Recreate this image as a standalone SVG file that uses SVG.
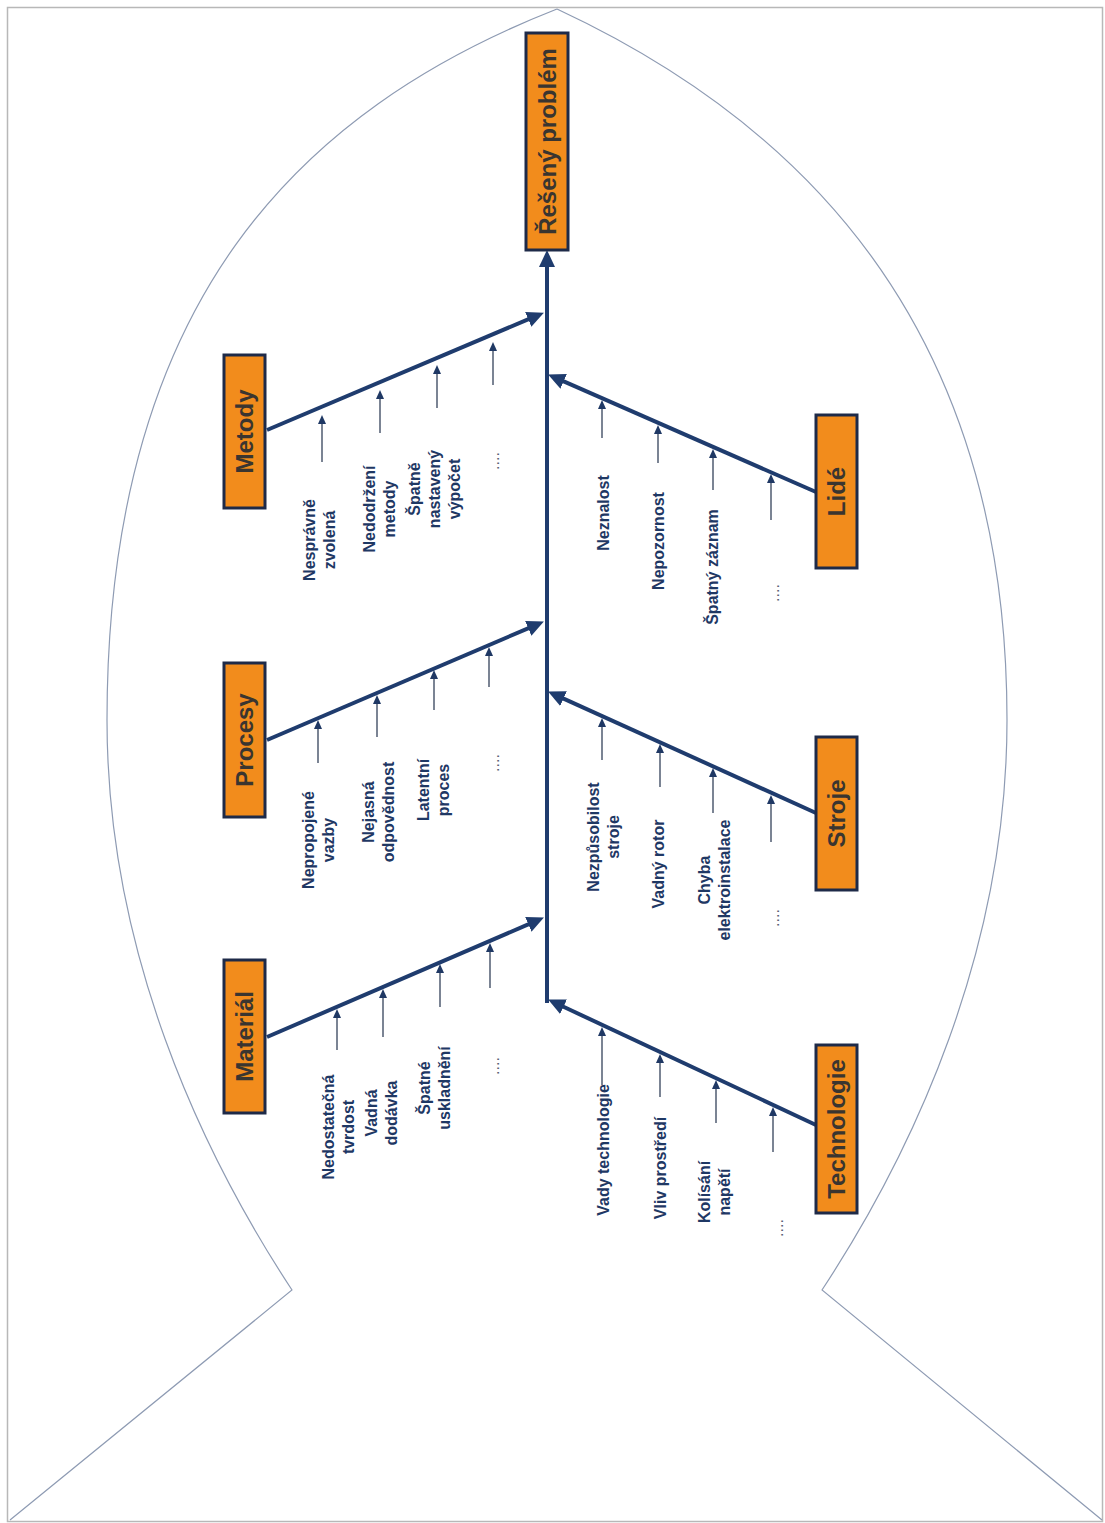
<svg xmlns="http://www.w3.org/2000/svg" width="1105" height="1523" viewBox="0 0 1105 1523">
  <defs>
    <marker id="head" markerUnits="userSpaceOnUse" markerWidth="18" markerHeight="16" viewBox="0 0 18 16" refX="3" refY="8" orient="auto">
      <path d="M0,0 L17,8 L0,16 z" fill="#1f3c6e"/>
    </marker>
    <marker id="tip" markerUnits="userSpaceOnUse" markerWidth="10" markerHeight="10" viewBox="0 0 10 10" refX="1" refY="5" orient="auto">
      <path d="M0,1 L9,5 L0,9 z" fill="#1f3864"/>
    </marker>
  </defs>
  <style>
    .frame { fill: #ffffff; stroke: #b8b8b8; stroke-width: 1.5; }
    .fish { fill: none; stroke: #8e9bb3; stroke-width: 1.2; }
    .bone { stroke: #1f3c6e; stroke-width: 4; fill: none; marker-end: url(#head); }
    .cause { stroke: #4f5b70; stroke-width: 1.5; marker-end: url(#tip); }
    .box { fill: #f28c1c; stroke: #1e2a48; stroke-width: 3; }
    .cat { font-family: "Liberation Sans", Arial, sans-serif; font-weight: bold; font-size: 24px; fill: #3a3530; text-anchor: middle; }
    .lbl { font-family: "Liberation Sans", Arial, sans-serif; font-weight: bold; font-size: 16px; fill: #1f3864; text-anchor: middle; }
    .more { font-family: "Liberation Sans", Arial, sans-serif; font-size: 16px; fill: #5a6478; text-anchor: middle; }
  </style>

  <!-- page frame and fish body outline -->
  <rect class="frame" x="7.5" y="7.5" width="1095" height="1514"/>
  <path class="fish" d="M557,9 C300,110 107,300 107,720 C107,950 200,1150 292,1290 L10,1520"/>
  <path class="fish" d="M557,9 C795,120 1007,320 1007,720 C1007,950 914,1150 822,1290 L1102,1520"/>

  <!-- spine, main bones and cause arrows -->
  <g id="connectors">
    <line class="bone" x1="547" y1="1003" x2="547" y2="264"/>
    <line class="bone" x1="267" y1="430" x2="531" y2="318.1"/>
    <line class="bone" x1="267" y1="740" x2="531" y2="627.1"/>
    <line class="bone" x1="267" y1="1037" x2="531.1" y2="923.1"/>
    <line class="bone" x1="816" y1="492" x2="560.9" y2="380.2"/>
    <line class="bone" x1="816" y1="813" x2="560.8" y2="697.4"/>
    <line class="bone" x1="816" y1="1125" x2="560.8" y2="1005.5"/>

    <!-- Metody causes -->
    <line class="cause" x1="322" y1="462" x2="322" y2="423"/>
    <line class="cause" x1="380" y1="433" x2="380" y2="398"/>
    <line class="cause" x1="437" y1="408" x2="437" y2="373"/>
    <line class="cause" x1="493" y1="385" x2="493" y2="350"/>
    <!-- Procesy causes -->
    <line class="cause" x1="318" y1="763" x2="318" y2="728"/>
    <line class="cause" x1="377" y1="737" x2="377" y2="703"/>
    <line class="cause" x1="434" y1="710" x2="434" y2="678"/>
    <line class="cause" x1="489" y1="687" x2="489" y2="655"/>
    <!-- Materiál causes -->
    <line class="cause" x1="337" y1="1050" x2="337" y2="1017"/>
    <line class="cause" x1="383" y1="1037" x2="383" y2="997"/>
    <line class="cause" x1="440" y1="1007" x2="440" y2="972"/>
    <line class="cause" x1="490" y1="988" x2="490" y2="951"/>
    <!-- Lidé causes -->
    <line class="cause" x1="602" y1="438" x2="602" y2="408"/>
    <line class="cause" x1="658" y1="463" x2="658" y2="433"/>
    <line class="cause" x1="713" y1="490" x2="713" y2="457"/>
    <line class="cause" x1="771" y1="520" x2="771" y2="482"/>
    <!-- Stroje causes -->
    <line class="cause" x1="602" y1="760" x2="602" y2="726"/>
    <line class="cause" x1="660" y1="787" x2="660" y2="752"/>
    <line class="cause" x1="713" y1="813" x2="713" y2="776"/>
    <line class="cause" x1="771" y1="842" x2="771" y2="803"/>
    <!-- Technologie causes -->
    <line class="cause" x1="602" y1="1085" x2="602" y2="1035"/>
    <line class="cause" x1="660" y1="1097" x2="660" y2="1062"/>
    <line class="cause" x1="716" y1="1123" x2="716" y2="1088"/>
    <line class="cause" x1="773" y1="1152" x2="773" y2="1115"/>
  </g>

  <!-- effect -->
  <g id="problem">
    <rect class="box" x="526" y="33" width="42" height="217"/>
    <text class="cat" transform="translate(547,141.5) rotate(-90)" y="8.5">Řešený problém</text>
  </g>

  <!-- categories -->
  <g id="metody">
    <rect class="box" x="224" y="355" width="41" height="153"/>
    <text class="cat" transform="translate(244.5,431.5) rotate(-90)" y="8.5">Metody</text>
  </g>
  <g id="procesy">
    <rect class="box" x="224" y="663" width="41" height="154"/>
    <text class="cat" transform="translate(244.5,740) rotate(-90)" y="8.5">Procesy</text>
  </g>
  <g id="material">
    <rect class="box" x="224" y="960" width="41" height="153"/>
    <text class="cat" transform="translate(244.5,1036.5) rotate(-90)" y="8.5">Materiál</text>
  </g>
  <g id="lide">
    <rect class="box" x="816" y="415" width="41" height="153"/>
    <text class="cat" transform="translate(836.5,491.5) rotate(-90)" y="8.5">Lidé</text>
  </g>
  <g id="stroje">
    <rect class="box" x="816" y="737" width="41" height="153"/>
    <text class="cat" transform="translate(836.5,813.5) rotate(-90)" y="8.5">Stroje</text>
  </g>
  <g id="technologie">
    <rect class="box" x="816" y="1045" width="41" height="168"/>
    <text class="cat" transform="translate(836.5,1129) rotate(-90)" y="8.5">Technologie</text>
  </g>

  <!-- cause labels, Metody -->
  <g id="metody-causes">
    <text class="lbl" transform="translate(319,540) rotate(-90)"><tspan x="0" y="-4.5">Nesprávně</tspan><tspan x="0" y="15.5">zvolená</tspan></text>
    <text class="lbl" transform="translate(379,509) rotate(-90)"><tspan x="0" y="-4.5">Nedodržení</tspan><tspan x="0" y="15.5">metody</tspan></text>
    <text class="lbl" transform="translate(434,489) rotate(-90)"><tspan x="0" y="-14.5">Špatně</tspan><tspan x="0" y="5.5">nastavený</tspan><tspan x="0" y="25.5">výpočet</tspan></text>
    <text class="more" transform="translate(493,461) rotate(-90)" y="5.5">....</text>
  </g>
  <!-- cause labels, Procesy -->
  <g id="procesy-causes">
    <text class="lbl" transform="translate(318,840) rotate(-90)"><tspan x="0" y="-4.5">Nepropojené</tspan><tspan x="0" y="15.5">vazby</tspan></text>
    <text class="lbl" transform="translate(378,812) rotate(-90)"><tspan x="0" y="-4.5">Nejasná</tspan><tspan x="0" y="15.5">odpovědnost</tspan></text>
    <text class="lbl" transform="translate(433,790) rotate(-90)"><tspan x="0" y="-4.5">Latentní</tspan><tspan x="0" y="15.5">proces</tspan></text>
    <text class="more" transform="translate(493,763) rotate(-90)" y="5.5">....</text>
  </g>
  <!-- cause labels, Materiál -->
  <g id="material-causes">
    <text class="lbl" transform="translate(338,1127) rotate(-90)"><tspan x="0" y="-4.5">Nedostatečná</tspan><tspan x="0" y="15.5">tvrdost</tspan></text>
    <text class="lbl" transform="translate(381,1113) rotate(-90)"><tspan x="0" y="-4.5">Vadná</tspan><tspan x="0" y="15.5">dodávka</tspan></text>
    <text class="lbl" transform="translate(434,1088) rotate(-90)"><tspan x="0" y="-4.5">Špatné</tspan><tspan x="0" y="15.5">uskladnění</tspan></text>
    <text class="more" transform="translate(493,1066) rotate(-90)" y="5.5">....</text>
  </g>
  <!-- cause labels, Lidé -->
  <g id="lide-causes">
    <text class="lbl" transform="translate(603,513) rotate(-90)" y="5.5">Neznalost</text>
    <text class="lbl" transform="translate(658,541) rotate(-90)" y="5.5">Nepozornost</text>
    <text class="lbl" transform="translate(712,567) rotate(-90)" y="5.5">Špatný záznam</text>
    <text class="more" transform="translate(773,593) rotate(-90)" y="5.5">....</text>
  </g>
  <!-- cause labels, Stroje -->
  <g id="stroje-causes">
    <text class="lbl" transform="translate(603,837) rotate(-90)"><tspan x="0" y="-4.5">Nezpůsobilost</tspan><tspan x="0" y="15.5">stroje</tspan></text>
    <text class="lbl" transform="translate(658,864) rotate(-90)" y="5.5">Vadný rotor</text>
    <text class="lbl" transform="translate(714,880) rotate(-90)"><tspan x="0" y="-4.5">Chyba</tspan><tspan x="0" y="15.5">elektroinstalace</tspan></text>
    <text class="more" transform="translate(773,918) rotate(-90)" y="5.5">....</text>
  </g>
  <!-- cause labels, Technologie -->
  <g id="technologie-causes">
    <text class="lbl" transform="translate(603,1150) rotate(-90)" y="5.5">Vady technologie</text>
    <text class="lbl" transform="translate(660,1168) rotate(-90)" y="5.5">Vliv prostředí</text>
    <text class="lbl" transform="translate(714,1192) rotate(-90)"><tspan x="0" y="-4.5">Kolísání</tspan><tspan x="0" y="15.5">napětí</tspan></text>
    <text class="more" transform="translate(777,1228) rotate(-90)" y="5.5">....</text>
  </g>
</svg>
